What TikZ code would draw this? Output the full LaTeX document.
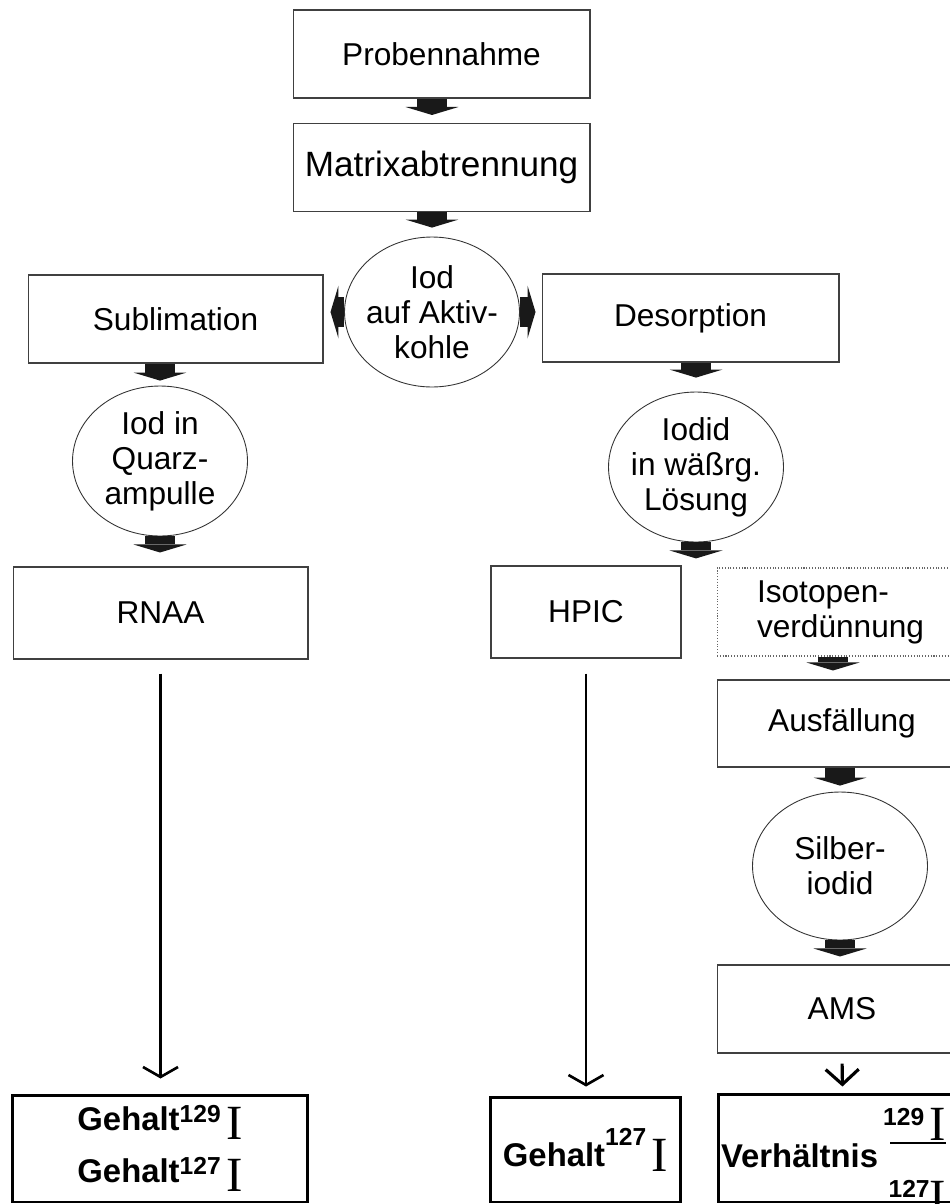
\documentclass[tikz,border=0pt]{standalone}
\usepackage{fontspec}
\setmainfont{Liberation Sans}
\newfontfamily\timesfont{Liberation Serif}
\usetikzlibrary{shapes.geometric,arrows.meta,positioning,calc}

\newcommand{\bigI}[1][-0.18cm]{\raisebox{#1}{\timesfont\mdseries\fontsize{28}{28}\selectfont I}}
\newcommand{\massno}[2][0.16cm]{\raisebox{#1}{\fontsize{14}{14}\selectfont #2}}
\newcommand{\ratioI}{%
  \rlap{\hspace{0.18cm}\raisebox{0.46cm}{\rule{1.12cm}{0.04cm}}}%
  \rlap{\raisebox{0.54cm}{\makebox[1.3cm][r]{\massno[0.30cm]{129}\,\bigI[0pt]}}}%
  \raisebox{-0.92cm}{\makebox[1.3cm][r]{\massno[0.32cm]{127}\bigI[0pt]}}}

\begin{document}
\begin{tikzpicture}[x=0.02cm, y=-0.02cm,
    stepbox/.style={draw=black!75, line width=0.6pt, minimum height=1.76cm, inner sep=0pt, font=\fontsize{18}{20}\selectfont},
    drop/.style={ellipse, draw=black!80, line width=0.5pt, minimum width=3.5cm, minimum height=3cm, inner xsep=-0.6cm, inner ysep=-0.6cm, align=center, font=\fontsize{18}{20}\selectfont},
    resbox/.style={draw, line width=1.7pt, inner sep=0pt, font=\fontsize{18.7}{29.5}\selectfont\bfseries},
    fat/.style={draw=black!90, line width=0.6cm, -{Triangle[width=1.06cm,length=0.16cm,line width=0pt]}},
    lead/.style={line width=1.5pt, -{Straight Barb[width=0.7cm,length=0.2cm]}}]
    \useasboundingbox (0,0) rectangle (950,1204);

    % preparation
    \node[stepbox, minimum width=5.94cm] (prob) at (441.5,54) {Probennahme};
    \node[stepbox, minimum width=5.94cm, font=\fontsize{20}{22}\selectfont] (mtx) at (441.5,167.5) {Matrixabtrennung};
    \node[drop] (iod) at (432,312) {Iod\\auf Aktiv-\\kohle};
    \node[stepbox, minimum width=5.9cm] (subl) at (175.5,319) {Sublimation};
    \node[stepbox, minimum width=5.94cm] (desorp) at (690.5,318) {Desorption};

    % left branch
    \node[drop] (quarz) at (160,461) {Iod in\\Quarz-\\ampulle};
    \node[stepbox, minimum width=5.9cm, minimum height=1.84cm] (rnaa) at (160.5,613) {RNAA};
    \node[resbox, align=center, minimum width=5.92cm, minimum height=2.14cm] (res1) at (160,1148.5)
        {Gehalt\massno{129}\,\bigI\\Gehalt\massno{127}\,\bigI};

    % right branch
    \node[drop] (iodid) at (696,467) {Iodid\\in wäßrg.\\Lösung};
    \coordinate (split) at ([yshift=-0.32cm]iodid.south);
    \node[stepbox, minimum width=3.8cm, minimum height=1.84cm] (hpic) at (586,612) {HPIC};
    \node[resbox, minimum width=3.82cm, minimum height=2.1cm] (res2) at (585.5,1149.5)
        {Gehalt\massno[0.42cm]{127}\,\bigI[-0.1cm]};
    \node[stepbox, draw=black!60, densely dotted, minimum width=5cm, text width=3.4cm, align=left] (iso) at (842,612) {Isotopen-\\verdünnung};
    \node[stepbox, minimum width=5cm, minimum height=1.74cm] (ausf) at (842,723.5) {Ausfällung};
    \node[drop, minimum height=2.96cm] (silber) at (840,866) {Silber-\\iodid};
    \node[stepbox, minimum width=5cm] (ams) at (842,1009) {AMS};
    \node[resbox, minimum width=4.98cm, minimum height=2.16cm, text height=1.46cm, text depth=0.70cm] (res3) at (842.5,1148)
        {\makebox[4.98cm][l]{\hspace{0.06cm}Verhältnis\hspace{0.06cm}\ratioI}};

    % block arrows
    \draw[fat, shorten >=0.16cm] (prob.south -| iod) -- (mtx.north -| iod);
    \draw[fat, shorten >=0.18cm] (mtx.south -| iod) -- (iod.north);
    \draw[fat, shorten >=0.14cm] (iod.west) -- (subl.east |- iod.west);
    \draw[fat, shorten >=0.12cm] (iod.east) -- (desorp.west |- iod.east);
    \draw[fat, shorten >=0.1cm] (subl.south -| quarz) -- (quarz.north);
    \draw[fat, shorten >=0.28cm] (desorp.south -| iodid) -- (iodid.north);
    \draw[fat, shorten >=0.28cm] (quarz.south) -- (rnaa.north -| quarz);
    \draw[fat] (iodid.south) -- (split);
    \draw[fat, shorten >=0.18cm] ([xshift=-0.18cm]iso.south) -- ([xshift=-0.18cm]ausf.north);
    \draw[fat, shorten >=0.12cm] (ausf.south -| silber) -- (silber.north);
    \draw[fat, shorten >=0.16cm] (silber.south) -- (ams.north -| silber);

    % measurement arrows
    \draw[lead, shorten <=0.28cm, shorten >=0.3cm] (rnaa.south) -- (res1.north -| rnaa.south);
    \draw[lead, shorten <=0.3cm, shorten >=0.18cm] (hpic.south) -- (res2.north -| hpic.south);
    \draw[line width=1.8pt, -{Straight Barb[width=0.66cm,length=0.3cm]}, shorten <=0.2cm, shorten >=0.12cm] (ams.south) -- (res3.north);
\end{tikzpicture}
\end{document}
